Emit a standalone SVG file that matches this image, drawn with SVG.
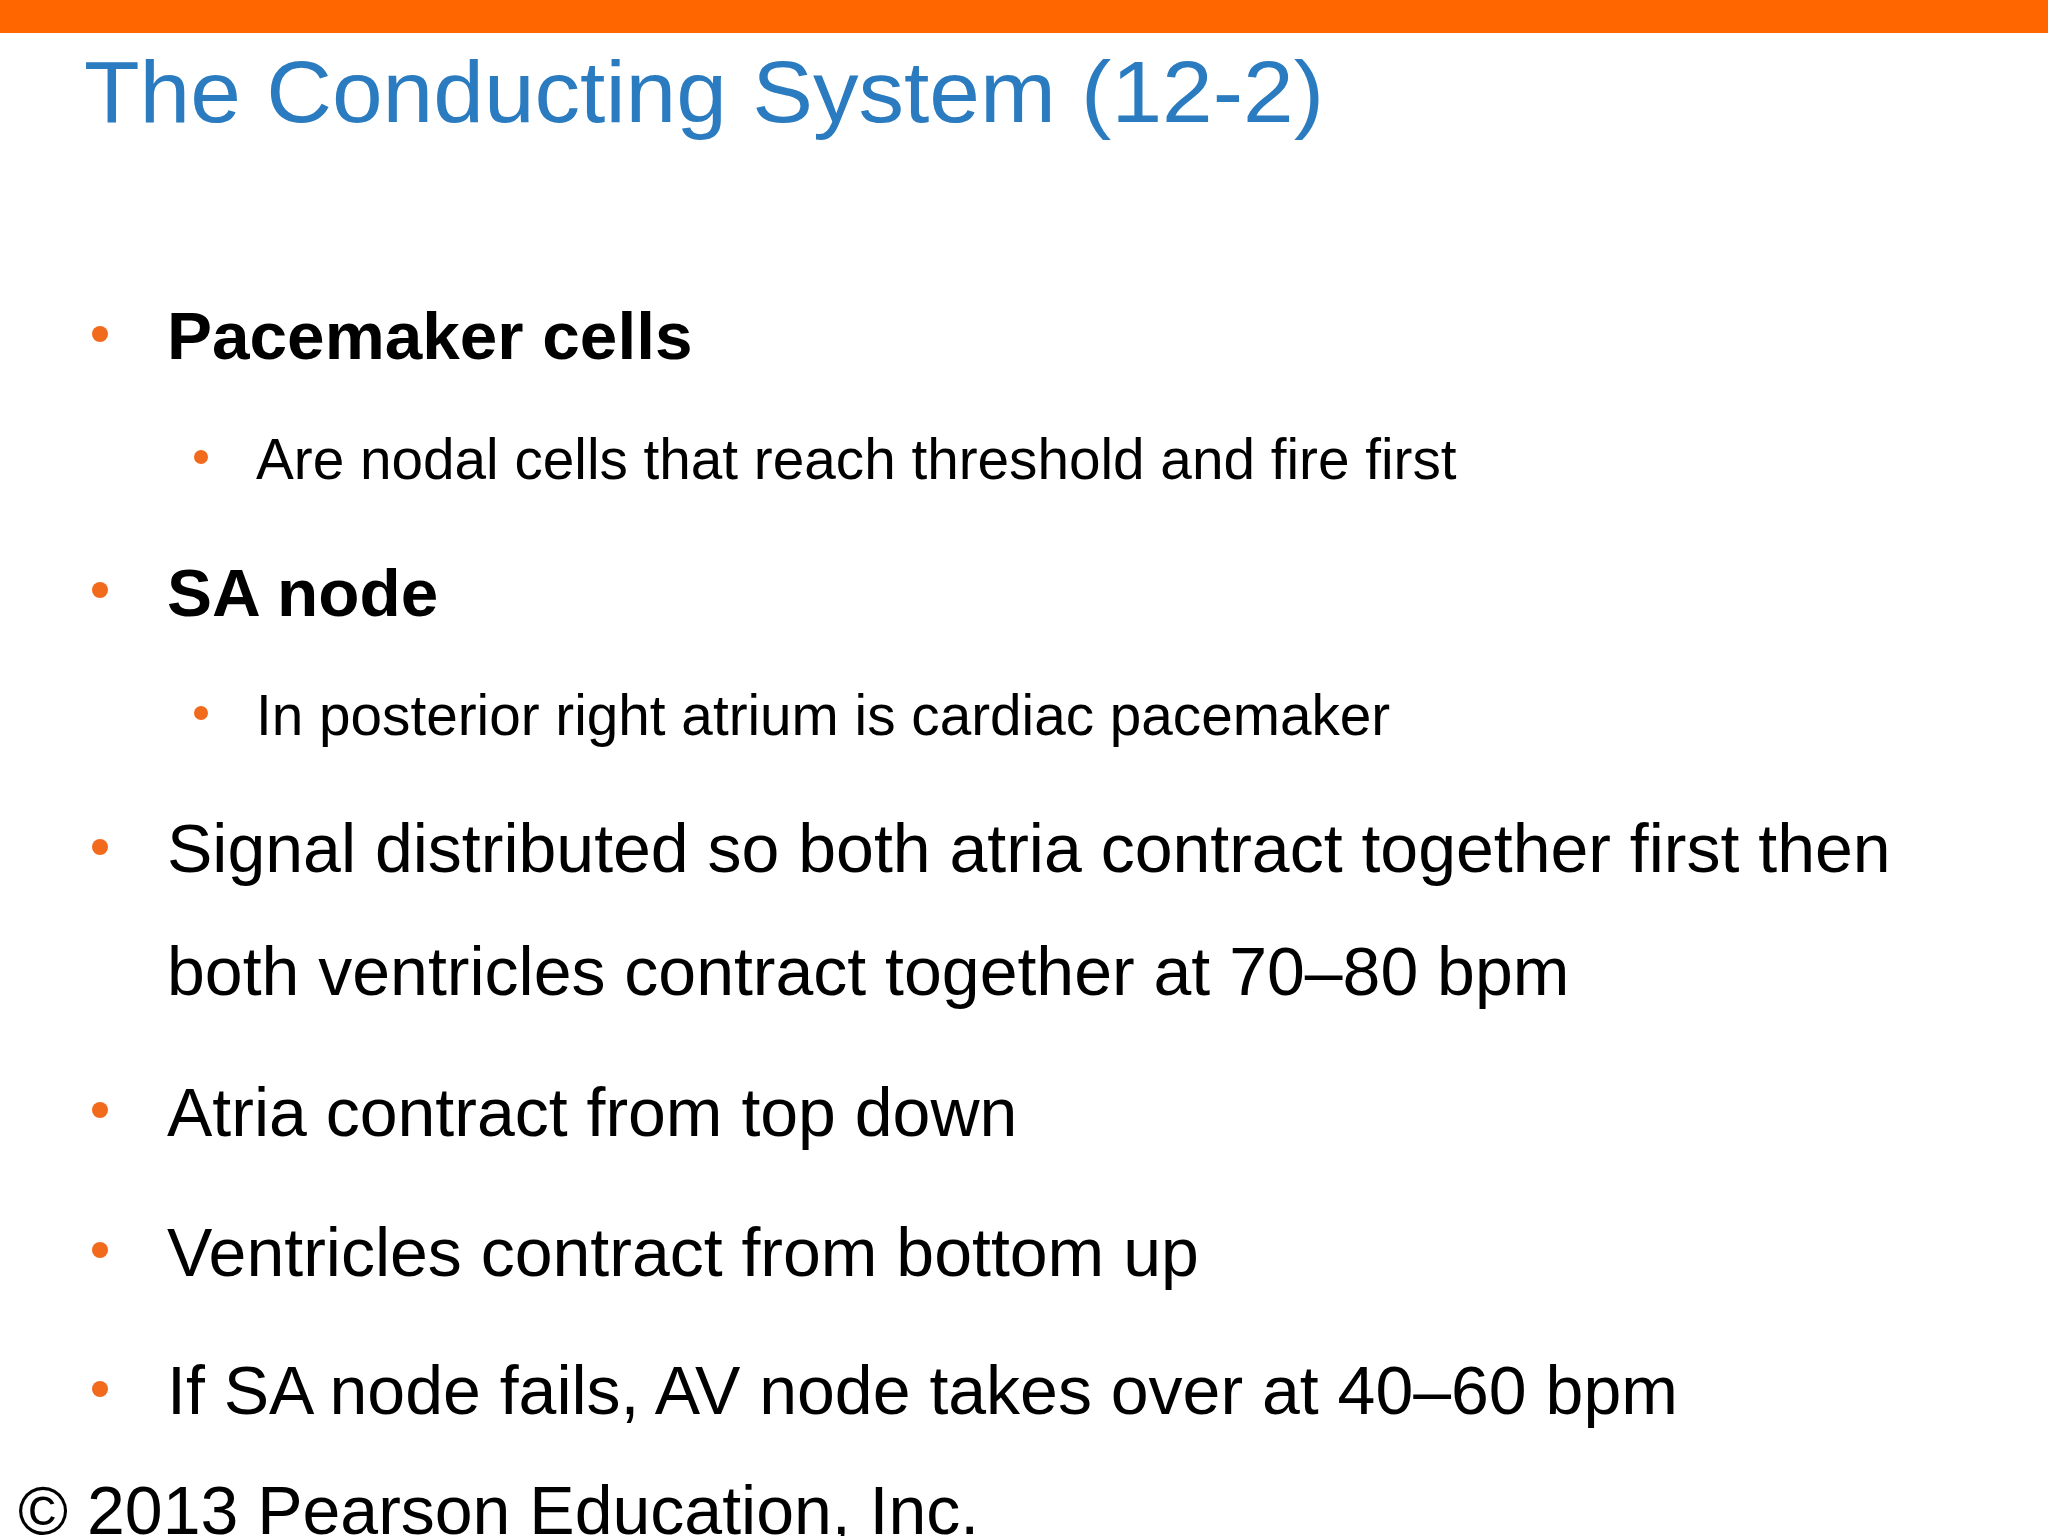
<svg xmlns="http://www.w3.org/2000/svg" width="2048" height="1536" viewBox="0 0 2048 1536">
<style>
text{font-family:"Liberation Sans",Arial,sans-serif;fill:#000}
.t{fill:#2a7bbf;font-size:88px}
.b{font-size:68px}
.bb{font-size:67.5px;font-weight:bold}
.s{font-size:56.7px}
.d{fill:#f26a1b}
</style>
<rect width="2048" height="1536" fill="#fff"/>
<rect width="2048" height="33" fill="#ff6600"/>
<text class="t" x="84" y="122" textLength="1240" lengthAdjust="spacingAndGlyphs">The Conducting System (12-2)</text>
<g class="d">
<circle cx="100" cy="334" r="8"/>
<circle cx="201" cy="457" r="7"/>
<circle cx="100" cy="590" r="8"/>
<circle cx="201" cy="713" r="7"/>
<circle cx="100" cy="847" r="8"/>
<circle cx="100" cy="1110" r="8"/>
<circle cx="100" cy="1250" r="8"/>
<circle cx="100" cy="1389" r="8"/>
</g>
<text class="bb" x="167" y="359">Pacemaker cells</text>
<text class="s" x="256" y="479">Are nodal cells that reach threshold and fire first</text>
<text class="bb" x="167" y="616">SA node</text>
<text class="s" x="256" y="735">In posterior right atrium is cardiac pacemaker</text>
<text class="b" x="167" y="872">Signal distributed so both atria contract together first then</text>
<text class="b" x="167" y="995">both ventricles contract together at 70–80 bpm</text>
<text class="b" x="167" y="1136">Atria contract from top down</text>
<text class="b" x="167" y="1276">Ventricles contract from bottom up</text>
<text class="b" x="167" y="1414">If SA node fails, AV node takes over at 40–60 bpm</text>
<text class="b" x="18" y="1534">© 2013 Pearson Education, Inc.</text>
</svg>
